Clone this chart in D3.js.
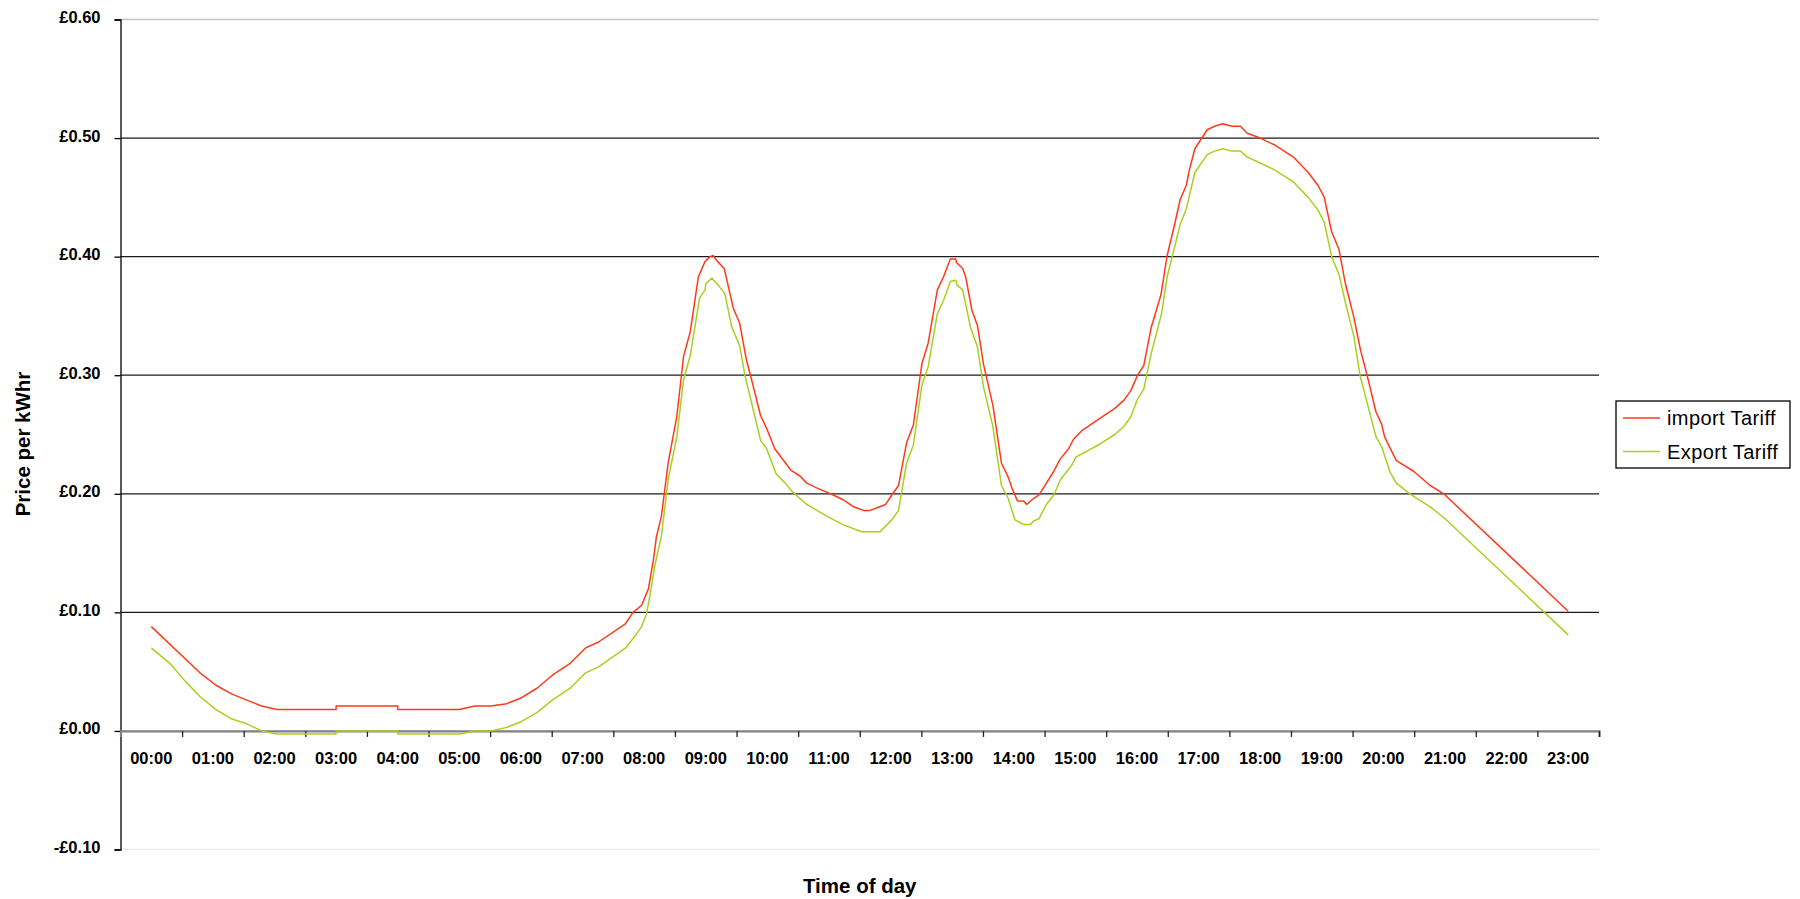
<!DOCTYPE html>
<html>
<head>
<meta charset="utf-8">
<script src="https://cdn.jsdelivr.net/npm/d3@7"></script>
<style>
  body { margin: 0; background: #fff; }
  svg { display: block; font-family: "Liberation Sans", Arial, sans-serif; }
</style>
</head>
<body>
<svg id="chart" width="1800" height="899"></svg>
<script>
// Hour labels on the category axis
const hourLabels = ['00:00', '01:00', '02:00', '03:00', '04:00', '05:00', '06:00', '07:00',
  '08:00', '09:00', '10:00', '11:00', '12:00', '13:00', '14:00', '15:00', '16:00', '17:00',
  '18:00', '19:00', '20:00', '21:00', '22:00', '23:00'];

const priceTicks = [-0.1, 0, 0.1, 0.2, 0.3, 0.4, 0.5, 0.6];

// [hour of day, £ per kWhr]
const importTariff = [
  [0.00, 0.088], [0.79, 0.049], [1.05, 0.0385], [1.31, 0.031], [1.79, 0.021], [2.04, 0.018],
  [3.00, 0.018], [3.00, 0.021], [4.00, 0.021], [4.00, 0.018], [5.00, 0.018], [5.25, 0.021],
  [5.51, 0.021], [5.77, 0.023], [6.01, 0.028], [6.26, 0.036], [6.51, 0.047], [6.80, 0.057],
  [7.05, 0.070], [7.26, 0.075], [7.69, 0.090], [7.82, 0.100], [7.96, 0.106], [8.07, 0.120],
  [8.15, 0.144], [8.20, 0.164], [8.28, 0.181], [8.39, 0.226], [8.53, 0.265], [8.64, 0.316],
  [8.75, 0.337], [8.88, 0.383], [8.99, 0.396], [9.07, 0.400], [9.12, 0.401], [9.19, 0.396],
  [9.30, 0.390], [9.45, 0.356], [9.55, 0.344], [9.66, 0.313], [9.78, 0.289], [9.89, 0.266],
  [9.99, 0.255], [10.12, 0.238], [10.38, 0.220], [10.53, 0.215], [10.64, 0.209], [10.80, 0.205],
  [11.07, 0.199], [11.23, 0.195], [11.40, 0.189], [11.56, 0.186], [11.67, 0.186], [11.77, 0.188],
  [11.92, 0.191], [12.02, 0.199], [12.13, 0.207], [12.26, 0.243], [12.37, 0.258], [12.51, 0.310],
  [12.61, 0.327], [12.76, 0.372], [12.86, 0.383], [12.97, 0.398], [13.06, 0.398], [13.07, 0.395],
  [13.17, 0.390], [13.22, 0.383], [13.32, 0.355], [13.41, 0.342], [13.51, 0.309], [13.66, 0.275],
  [13.80, 0.226], [13.91, 0.214], [13.97, 0.205], [14.06, 0.194], [14.16, 0.194], [14.21, 0.191],
  [14.32, 0.196], [14.41, 0.199], [14.53, 0.209], [14.65, 0.219], [14.75, 0.229], [14.89, 0.238],
  [14.97, 0.246], [15.10, 0.253], [15.35, 0.262], [15.64, 0.272], [15.79, 0.279], [15.90, 0.287],
  [16.01, 0.300], [16.11, 0.308], [16.23, 0.340], [16.39, 0.368], [16.49, 0.401], [16.62, 0.429],
  [16.70, 0.448], [16.80, 0.460], [16.85, 0.473], [16.94, 0.491], [17.14, 0.507], [17.26, 0.510],
  [17.39, 0.512], [17.54, 0.510], [17.68, 0.510], [17.79, 0.504], [18.00, 0.500], [18.24, 0.494],
  [18.54, 0.484], [18.78, 0.471], [18.94, 0.460], [19.04, 0.450], [19.16, 0.421], [19.28, 0.406],
  [19.38, 0.378], [19.52, 0.349], [19.63, 0.321], [19.74, 0.299], [19.88, 0.269], [19.97, 0.259],
  [20.02, 0.248], [20.21, 0.228], [20.49, 0.219], [20.76, 0.207], [20.98, 0.200], [23.00, 0.101]
];

const exportTariff = [
  [0.00, 0.070], [0.30, 0.057], [0.55, 0.042], [0.79, 0.029], [1.05, 0.018], [1.31, 0.010],
  [1.55, 0.006], [1.79, 0.000], [2.04, -0.0025], [3.00, -0.0025], [3.00, 0.000], [4.00, 0.000],
  [4.00, -0.0025], [5.00, -0.0025], [5.25, 0.000], [5.51, 0.000], [5.77, 0.003], [6.01, 0.008],
  [6.26, 0.0155], [6.51, 0.026], [6.80, 0.036], [7.05, 0.049], [7.26, 0.054], [7.70, 0.070],
  [7.85, 0.080], [7.96, 0.088], [8.04, 0.099], [8.12, 0.122], [8.18, 0.141], [8.28, 0.164],
  [8.39, 0.212], [8.53, 0.248], [8.64, 0.296], [8.75, 0.317], [8.90, 0.365], [8.99, 0.372],
  [9.00, 0.377], [9.10, 0.382], [9.20, 0.376], [9.31, 0.369], [9.42, 0.341], [9.55, 0.325],
  [9.64, 0.299], [9.78, 0.269], [9.89, 0.245], [9.99, 0.238], [10.14, 0.217], [10.29, 0.209],
  [10.40, 0.202], [10.64, 0.191], [10.97, 0.181], [11.23, 0.174], [11.53, 0.168], [11.83, 0.168],
  [12.02, 0.178], [12.13, 0.186], [12.26, 0.226], [12.37, 0.241], [12.51, 0.292], [12.61, 0.307],
  [12.76, 0.352], [12.86, 0.363], [12.97, 0.379], [13.06, 0.380], [13.08, 0.376], [13.17, 0.372],
  [13.30, 0.340], [13.41, 0.324], [13.51, 0.290], [13.66, 0.257], [13.80, 0.207], [13.91, 0.196],
  [14.02, 0.178], [14.16, 0.174], [14.27, 0.174], [14.32, 0.177], [14.41, 0.179], [14.53, 0.191],
  [14.65, 0.199], [14.76, 0.212], [14.94, 0.224], [15.01, 0.231], [15.19, 0.236], [15.40, 0.242],
  [15.64, 0.250], [15.79, 0.257], [15.90, 0.265], [16.01, 0.280], [16.11, 0.288], [16.23, 0.318],
  [16.40, 0.352], [16.49, 0.383], [16.62, 0.410], [16.70, 0.427], [16.80, 0.440], [16.85, 0.451],
  [16.94, 0.471], [17.14, 0.486], [17.26, 0.489], [17.39, 0.491], [17.54, 0.489], [17.68, 0.489],
  [17.79, 0.484], [18.00, 0.479], [18.24, 0.473], [18.54, 0.463], [18.78, 0.450], [18.94, 0.439],
  [19.04, 0.429], [19.16, 0.400], [19.28, 0.385], [19.38, 0.362], [19.52, 0.333], [19.62, 0.300],
  [19.74, 0.276], [19.88, 0.248], [19.97, 0.240], [20.11, 0.218], [20.21, 0.209], [20.43, 0.200],
  [20.76, 0.189], [20.98, 0.180], [23.00, 0.081]
];

const series = [
  { name: 'import Tariff', data: importTariff, color: '#ff3a1a' },
  { name: 'Export Tariff', data: exportTariff, color: '#a8d01e' }
];

const svg = d3.select('#chart');
const plot = { left: 120.5, right: 1599, top: 19.5, bottom: 849.5 };

// each hour is one category band, points sit at the band centre
const x = d3.scaleLinear().domain([-0.5, 23.5]).range([plot.left, plot.right]);
const y = d3.scaleLinear().domain([-0.1, 0.6]).range([plot.bottom, plot.top]);

// plot area edges and gridlines
svg.append('line')
  .attr('x1', plot.left).attr('x2', plot.right)
  .attr('y1', y(0.6)).attr('y2', y(0.6))
  .attr('stroke', '#c4c4c4').attr('stroke-width', 1.4);

svg.append('line')
  .attr('x1', plot.left).attr('x2', plot.right)
  .attr('y1', y(-0.1)).attr('y2', y(-0.1))
  .attr('stroke', '#ececec').attr('stroke-width', 1.4);

svg.append('g')
  .selectAll('line')
  .data(priceTicks.filter(d => d > 0.05 && d < 0.55))
  .join('line')
  .attr('x1', plot.left).attr('x2', plot.right)
  .attr('y1', d => y(d)).attr('y2', d => y(d))
  .attr('stroke', '#1a1a1a').attr('stroke-width', 1.3);

// y axis
const yAxis = svg.append('g')
  .attr('transform', `translate(${plot.left},0)`)
  .call(d3.axisLeft(y)
    .tickValues(priceTicks)
    .tickSize(6)
    .tickPadding(14)
    .tickFormat(d => (d < 0 ? '-£' : '£') + Math.abs(d).toFixed(2)));

yAxis.select('.domain').attr('stroke', '#000').attr('stroke-width', 1.3);
yAxis.selectAll('.tick line').attr('stroke', '#000').attr('stroke-width', 1.3);
yAxis.selectAll('.tick text')
  .attr('fill', '#000')
  .attr('dy', '0.18em')
  .style('font-size', '16.5px')
  .style('font-weight', 'bold');

// x axis: tick marks on band edges, labels on band centres
const xTicks = svg.append('g')
  .attr('transform', `translate(0,${y(0)})`)
  .call(d3.axisBottom(x)
    .tickValues(d3.range(0, 24).map(i => i + 0.5))
    .tickSize(6)
    .tickFormat(''));

xTicks.select('.domain').attr('stroke', '#808080').attr('stroke-width', 2.2);
xTicks.selectAll('.tick line').attr('stroke', '#222').attr('stroke-width', 1.3);

svg.append('g')
  .selectAll('text')
  .data(hourLabels)
  .join('text')
  .attr('x', (d, i) => x(i))
  .attr('y', y(0) + 33)
  .attr('text-anchor', 'middle')
  .style('font-size', '16.5px')
  .style('font-weight', 'bold')
  .text(d => d);

// tariff lines
const line = d3.line()
  .x(d => x(d[0]))
  .y(d => y(d[1]));

svg.append('g')
  .selectAll('path')
  .data(series)
  .join('path')
  .attr('fill', 'none')
  .attr('stroke', d => d.color)
  .attr('stroke-width', 1.5)
  .attr('stroke-linejoin', 'round')
  .attr('d', d => line(d.data));

// axis titles
svg.append('text')
  .attr('x', (plot.left + plot.right) / 2)
  .attr('y', 893)
  .attr('text-anchor', 'middle')
  .style('font-size', '20.5px')
  .style('font-weight', 'bold')
  .text('Time of day');

svg.append('text')
  .attr('transform', 'translate(30,444) rotate(-90)')
  .attr('text-anchor', 'middle')
  .style('font-size', '20.5px')
  .style('font-weight', 'bold')
  .text('Price per kWhr');

// legend
const legend = svg.append('g').attr('transform', 'translate(1616,401)');

legend.append('rect')
  .attr('width', 174).attr('height', 67)
  .attr('fill', '#fff')
  .attr('stroke', '#000').attr('stroke-width', 1.3);

const item = legend.selectAll('.item')
  .data(series)
  .join('g')
  .attr('class', 'item')
  .attr('transform', (d, i) => `translate(0,${17 + i * 33.5})`);

item.append('line')
  .attr('x1', 7).attr('x2', 44)
  .attr('stroke', d => d.color)
  .attr('stroke-width', 1.5);

item.append('text')
  .attr('x', 51)
  .attr('y', 7)
  .style('font-size', '20px')
  .style('letter-spacing', '0.4px')
  .text(d => d.name);
</script>
</body>
</html>
